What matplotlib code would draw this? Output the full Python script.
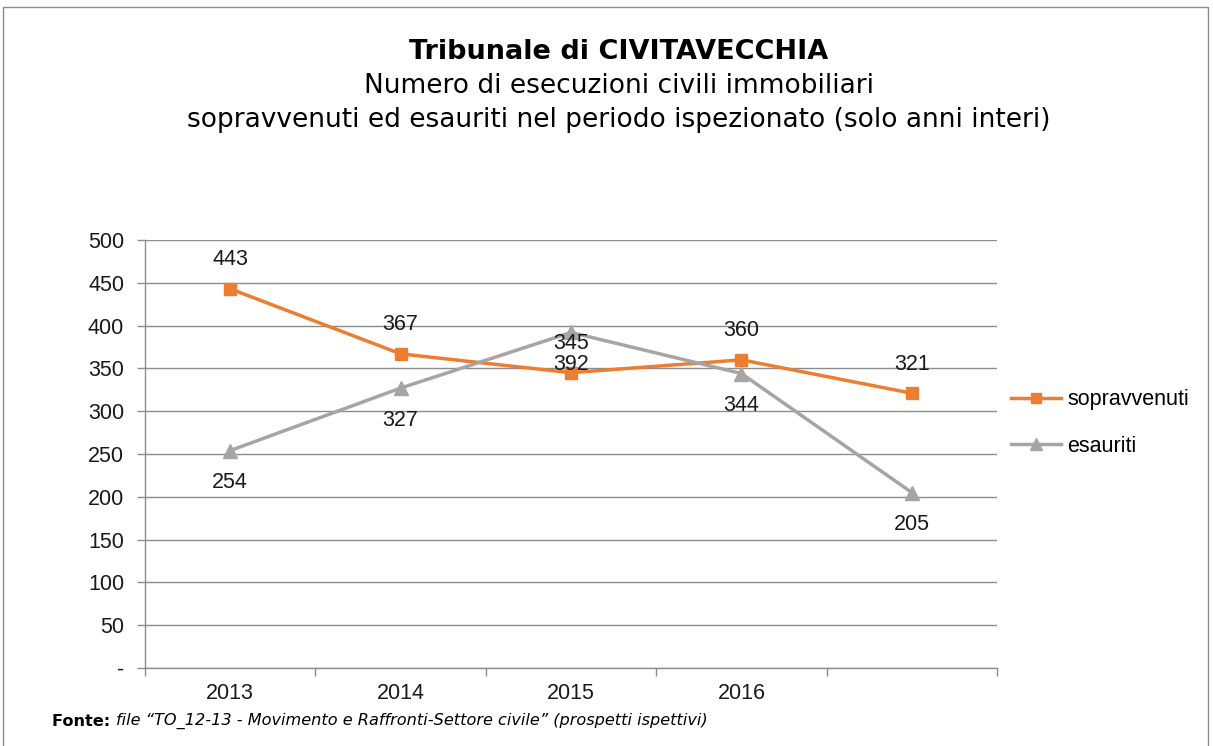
import matplotlib
matplotlib.use("Agg")
import matplotlib.pyplot as plt
from matplotlib.patches import Rectangle
from matplotlib.lines import Line2D

categories = ["2013", "2014", "2015", "2016", ""]
sopravvenuti = [443, 367, 345, 360, 321]
esauriti = [254, 327, 392, 344, 205]
yticks = [0, 50, 100, 150, 200, 250, 300, 350, 400, 450, 500]
ytick_labels = ["-", "50", "100", "150", "200", "250", "300", "350", "400", "450", "500"]

ORANGE = "#ED7D31"
GREY = "#A5A5A5"
GRID = "#8C8C8C"
FS = 15.5

W, H = 1213, 746
fig = plt.figure(figsize=(W / 100, H / 100), dpi=100)
fig.patch.set_facecolor("white")

# outer frame
fig.add_artist(Rectangle((3 / W, -0.01), (1208 - 3) / W, 1 - 7 / H + 0.01,
                         transform=fig.transFigure, fill=False,
                         edgecolor="#8C8C8C", linewidth=1.0))

left, right, top, bottom = 145, 997, 240, 668
ax = fig.add_axes([left / W, 1 - bottom / H, (right - left) / W, (bottom - top) / H])

x = list(range(len(categories)))
ax.plot(x, sopravvenuti, color=ORANGE, lw=2.5, marker="s", ms=8.5, zorder=3)
ax.plot(x, esauriti, color=GREY, lw=2.5, marker="^", ms=9.5, zorder=3)

for xi, v in zip(x, sopravvenuti):
    ax.annotate(str(v), (xi, v), xytext=(0, 21), textcoords="offset points",
                ha="center", va="center", fontsize=FS, family="Liberation Sans", color="#1a1a1a")
for xi, v in zip(x, esauriti):
    ax.annotate(str(v), (xi, v), xytext=(0, -23), textcoords="offset points",
                ha="center", va="center", fontsize=FS, family="Liberation Sans", color="#1a1a1a")

ax.set_xlim(-0.5, len(categories) - 0.5)
ax.set_ylim(0, 500)
ax.set_yticks(yticks)
ax.set_yticklabels(ytick_labels, fontsize=FS, family="Liberation Sans", color="#1a1a1a")
ax.set_xticks(x)
ax.set_xticklabels(categories, fontsize=FS, family="Liberation Sans", color="#1a1a1a")
ax.set_xticks([i - 0.5 for i in range(len(categories) + 1)], minor=True)
ax.tick_params(axis="x", which="major", length=0, pad=11)
ax.tick_params(axis="x", which="minor", length=6, color=GRID, width=1)
ax.tick_params(axis="y", length=6, color=GRID, width=1, pad=9)
ax.grid(axis="y", color=GRID, lw=1)
ax.set_axisbelow(True)
for s in ["top", "right"]:
    ax.spines[s].set_visible(False)
for s in ["left", "bottom"]:
    ax.spines[s].set_color(GRID)
    ax.spines[s].set_linewidth(1)

handles = [Line2D([], [], color=ORANGE, lw=2.5, marker="s", ms=7),
           Line2D([], [], color=GREY, lw=2.5, marker="^", ms=8)]
fig.legend(handles, ["sopravvenuti", "esauriti"], loc="center left",
           bbox_to_anchor=(992 / W, 1 - 423 / H), frameon=False,
           prop={"family": "Liberation Sans", "size": FS},
           handlelength=2.3, handletextpad=0.3, labelspacing=1.2)

fig.text(619 / W, 1 - 52 / H, "Tribunale di CIVITAVECCHIA", ha="center", va="center",
         fontsize=19.5, fontweight="bold", family="DejaVu Sans")
fig.text(619 / W, 1 - 86 / H, "Numero di esecuzioni civili immobiliari", ha="center", va="center",
         fontsize=19, family="DejaVu Sans")
fig.text(619 / W, 1 - 120 / H, "sopravvenuti ed esauriti nel periodo ispezionato (solo anni interi)",
         ha="center", va="center", fontsize=19, family="DejaVu Sans")

t1 = fig.text(52 / W, 1 - 721 / H, "Fonte: ", ha="left", va="center",
              fontsize=11.6, fontweight="bold", family="DejaVu Sans")
fig.canvas.draw()
bb = t1.get_window_extent()
fig.text(bb.x1 / W, 1 - 721 / H,
         "file \u201cTO_12-13 - Movimento e Raffronti-Settore civile\u201d (prospetti ispettivi)",
         ha="left", va="center", fontsize=11.6, style="italic", family="DejaVu Sans")

fig.savefig("out.png", dpi=100, facecolor="white")
